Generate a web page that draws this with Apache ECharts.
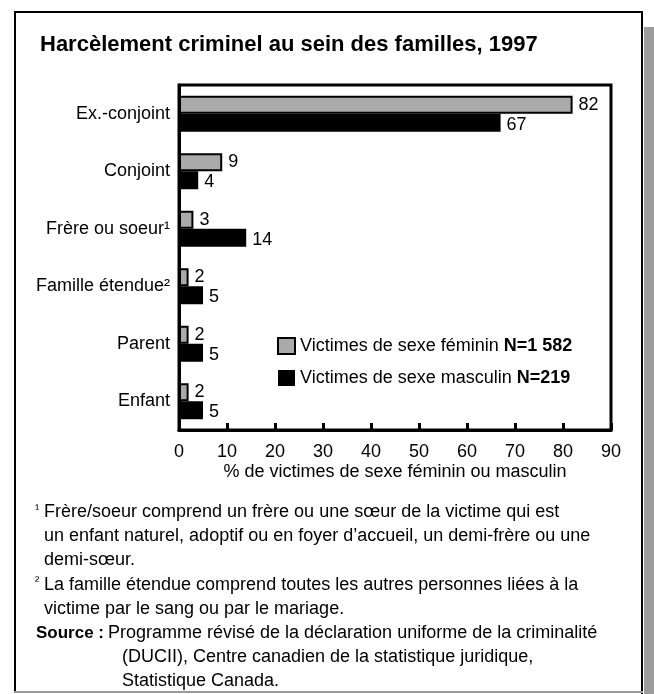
<!DOCTYPE html>
<html>
<head>
<meta charset="utf-8">
<script src="https://cdn.jsdelivr.net/npm/echarts@6/dist/echarts.min.js"></script>
<style>
  html, body { margin: 0; padding: 0; background: #fff; }
  #chart { width: 654px; height: 694px; }
</style>
</head>
<body>
<div id="chart"></div>
<script>
// categories (top to bottom)
let categories = ['Ex.-conjoint', 'Conjoint', 'Frère ou soeur¹', 'Famille étendue²', 'Parent', 'Enfant'];
// % of female / male victims
let femaleValues = [82, 9, 3, 2, 2, 2];
let maleValues = [67, 4, 14, 5, 5, 5];
// legend
let seriesNames = ['Victimes de sexe féminin', 'Victimes de sexe masculin'];
let seriesN = ['N=1 582', 'N=219'];
// x axis
let xMin = 0, xMax = 90, xStep = 10;

let titleText = 'Harcèlement criminel au sein des familles, 1997';
let axisName = '% de victimes de sexe féminin ou masculin';

//notes sous le graphique
let notes = [
  ['¹', 'Frère/soeur comprend un frère ou une sœur de la victime qui est'],
  ['', 'un enfant naturel, adoptif ou en foyer d’accueil, un demi-frère ou une'],
  ['', 'demi-sœur.'],
  ['²', 'La famille étendue comprend toutes les autres personnes liées à la'],
  ['', 'victime par le sang ou par le mariage.']
];
let sourceLabel = 'Source :';
let sourceLines = [
  'Programme révisé de la déclaration uniforme de la criminalité',
  '(DUCII), Centre canadien de la statistique juridique,',
  'Statistique Canada.'
];

const FONT = '"Liberation Sans", Arial, Helvetica, sans-serif';

let chart = echarts.init(document.getElementById('chart'), null, { renderer: 'canvas' });

//cadre + notes
let graphics = [
  { type: 'line', shape: { x1: 15, y1: 11, x2: 15, y2: 692 }, style: { stroke: '#000', lineWidth: 2 } },
  { type: 'line', shape: { x1: 14, y1: 12, x2: 643, y2: 12 }, style: { stroke: '#000', lineWidth: 2 } },
  { type: 'line', shape: { x1: 642, y1: 11, x2: 642, y2: 694 }, style: { stroke: '#000', lineWidth: 2 } },
  { type: 'line', shape: { x1: 14, y1: 692, x2: 643, y2: 692 }, style: { stroke: '#9a9a9a', lineWidth: 2 } },
  { type: 'rect', shape: { x: 644, y: 27, width: 10, height: 667 }, style: { fill: '#9c9c9c' } }
];

let lineY = 512, lineH = 24.2;
notes.forEach((n, i) => {
  if (n[0]) {
    graphics.push({ type: 'text', x: 35, y: lineY + i * lineH - 3,
      style: { text: n[0], font: '13px ' + FONT, fill: '#000', verticalAlign: 'middle' } });
  }
  graphics.push({ type: 'text', x: 44, y: lineY + i * lineH,
    style: { text: n[1], font: '18px ' + FONT, fill: '#000', verticalAlign: 'middle' } });
});
let srcY = lineY + notes.length * lineH;
graphics.push({ type: 'text', x: 36, y: srcY,
  style: { text: sourceLabel, font: 'bold 17px ' + FONT, fill: '#000', verticalAlign: 'middle' } });
sourceLines.forEach((t, i) => {
  graphics.push({ type: 'text', x: i === 0 ? 108 : 122, y: srcY + i * lineH,
    style: { text: t, font: '18px ' + FONT, fill: '#000', verticalAlign: 'middle' } });
});

let option = {
  backgroundColor: '#fff',
  animation: false,
  title: {
    text: titleText,
    left: 35,
    top: 29,
    textStyle: { fontFamily: FONT, fontSize: 22, fontWeight: 'bold', color: '#000' }
  },
  legend: {
    data: seriesNames,
    orient: 'vertical',
    left: 272,
    top: 332,
    icon: 'rect',
    itemWidth: 17,
    itemHeight: 16,
    itemGap: 14,
    formatter: name => `{n|${name} }{b|${seriesN[seriesNames.indexOf(name)]}}`,
    textStyle: {
      fontFamily: FONT,
      color: '#000',
      rich: {
        n: { fontFamily: FONT, fontSize: 18, color: '#000' },
        b: { fontFamily: FONT, fontSize: 18, fontWeight: 'bold', color: '#000' }
      }
    }
  },
  grid: {
    left: 179,
    top: 85,
    width: 432,
    height: 345,
    show: true,
    borderColor: '#000',
    borderWidth: 3,
    backgroundColor: 'transparent'
  },
  xAxis: {
    type: 'value',
    min: xMin,
    max: xMax,
    interval: xStep,
    name: axisName,
    nameLocation: 'middle',
    nameGap: 33,
    nameTextStyle: { fontFamily: FONT, fontSize: 18, color: '#000' },
    axisLine: { show: true, lineStyle: { color: '#000', width: 3 } },
    axisTick: { show: true, inside: true, length: 7, lineStyle: { color: '#000', width: 3 } },
    axisLabel: { fontFamily: FONT, fontSize: 18, color: '#000', margin: 13 },
    splitLine: { show: false }
  },
  yAxis: {
    type: 'category',
    inverse: true,
    data: categories,
    axisLine: { show: true, lineStyle: { color: '#000', width: 3 } },
    axisTick: { show: false },
    axisLabel: { fontFamily: FONT, fontSize: 18, color: '#000', margin: 9 }
  },
  series: [
    {
      name: seriesNames[0],
      type: 'bar',
      data: femaleValues,
      barWidth: 18,
      barGap: '0%',
      itemStyle: { color: '#aaaaaa', borderColor: '#000', borderWidth: 2 },
      label: { show: true, position: 'right', distance: 6, fontFamily: FONT, fontSize: 18, color: '#000' }
    },
    {
      name: seriesNames[1],
      type: 'bar',
      data: maleValues,
      barWidth: 18,
      itemStyle: { color: '#000' },
      label: { show: true, position: 'right', distance: 6, offset: [0, 2], fontFamily: FONT, fontSize: 18, color: '#000' }
    }
  ],
  graphic: graphics
};

chart.setOption(option);
</script>
</body>
</html>
